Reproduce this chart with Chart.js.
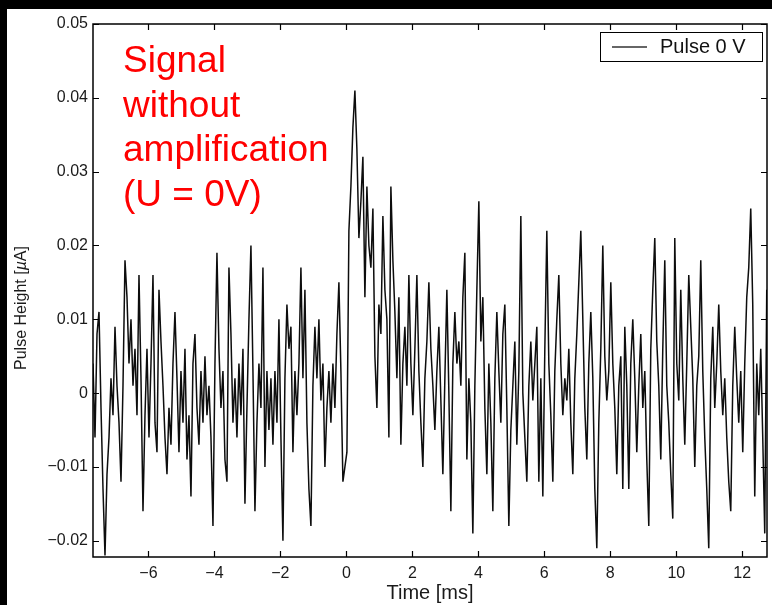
<!DOCTYPE html>
<html>
<head>
<meta charset="utf-8">
<script src="https://cdn.jsdelivr.net/npm/chart.js@4/dist/chart.umd.min.js"></script>
<style>
  html, body { margin: 0; padding: 0; background: #000; width: 772px; height: 605px; overflow: hidden; }
  #frame { position: absolute; left: 7px; top: 9px; width: 765px; height: 596px; background: #fff; }
  canvas { display: block; }
</style>
</head>
<body>
<div id="frame"><canvas id="c" width="765" height="596"></canvas></div>
<script>
// ---- data ----
const seriesLabel = 'Pulse 0 V';
const sampleStart = -7.68;   // ms, first sample
const sampleStep = 0.0606;   // ms between samples
const pulseValues = [
  0.004,-0.006,0.008,0.011,-0.002,-0.013,-0.022,-0.011,-0.006,0.002,
  -0.003,0.009,0.001,-0.004,-0.012,0.001,0.018,0.013,0.004,0.010,
  0.001,0.006,-0.003,0.016,0.002,-0.016,-0.003,0.006,-0.006,0.004,
  0.016,-0.004,-0.008,0.014,0.007,0.001,-0.006,-0.011,-0.002,-0.007,
  0.004,0.011,0.002,-0.008,0.003,-0.004,0.006,-0.009,-0.003,-0.014,
  0.004,0.008,-0.002,-0.007,0.003,-0.004,0.005,-0.003,0.001,-0.006,
  -0.018,0.004,0.019,0.006,-0.002,0.003,-0.009,-0.012,0.017,0.008,
  -0.004,0.002,-0.006,0.004,-0.003,0.006,-0.015,-0.002,0.010,0.020,
  0.003,-0.016,-0.004,0.004,-0.002,0.017,-0.010,0.003,-0.005,0.002,
  -0.007,0.003,-0.004,0.010,-0.006,-0.020,0.002,0.012,0.006,0.009,
  -0.008,0.003,-0.003,0.004,0.017,0.002,0.014,-0.004,-0.013,-0.018,
  0.001,0.009,0.002,0.010,-0.001,0.004,-0.010,-0.002,0.003,-0.004,
  0.004,-0.002,0.008,0.015,0.003,-0.012,-0.010,-0.008,0.022,0.028,
  0.036,0.041,0.033,0.021,0.026,0.032,0.013,0.028,0.020,0.017,
  0.025,0.005,-0.002,0.012,0.008,0.024,0.014,0.010,-0.006,0.028,
  0.018,0.011,0.002,0.013,-0.007,0.004,0.009,0.001,0.016,0.004,
  -0.003,0.006,0.016,0.003,-0.004,-0.010,0.002,0.007,0.015,0.006,
  0.001,-0.005,0.003,0.009,-0.001,-0.011,0.002,0.014,0.000,-0.016,
  0.004,0.011,0.004,0.007,0.001,0.013,0.019,-0.009,0.002,-0.004,
  -0.019,0.001,0.014,0.026,0.007,0.013,-0.002,-0.011,0.004,-0.004,
  -0.016,0.002,0.011,0.003,-0.004,0.008,0.012,-0.002,-0.018,-0.005,
  0.001,0.007,-0.007,0.003,0.024,0.000,-0.006,-0.012,0.001,0.007,
  -0.001,0.004,0.009,-0.012,0.002,-0.014,0.006,0.022,0.004,-0.003,
  -0.012,0.003,0.010,0.016,0.004,-0.003,0.002,-0.001,0.006,-0.004,
  -0.011,0.002,0.008,0.015,0.022,0.010,-0.002,-0.009,0.004,0.011,
  0.002,-0.013,-0.021,-0.004,0.006,0.020,0.005,-0.001,0.003,0.015,
  0.004,-0.002,-0.011,0.001,0.005,-0.013,0.009,0.001,-0.013,0.004,
  0.010,0.002,-0.008,0.001,0.008,-0.002,0.003,-0.009,-0.018,0.006,
  0.014,0.021,0.007,0.001,-0.009,0.006,0.018,0.001,-0.004,-0.011,
  -0.017,0.021,0.004,-0.001,0.014,0.002,-0.007,0.004,0.016,0.009,
  0.002,-0.010,0.001,0.005,0.018,0.003,-0.006,-0.013,-0.021,0.002,
  0.009,-0.002,0.004,0.012,0.003,-0.003,0.002,-0.006,-0.012,-0.016,
  0.001,0.009,0.002,-0.004,0.003,-0.008,0.004,0.013,0.017,0.025,
  0.012,-0.014,0.004,-0.003,0.006,-0.006,-0.019,0.014
];
const xTickValues = [-6, -4, -2, 0, 2, 4, 6, 8, 10, 12];
const yTickValues = [-0.02, -0.01, 0, 0.01, 0.02, 0.03, 0.04, 0.05];
const xRange = [-7.68, 12.75];
const yRange = [-0.0222, 0.05];
const annotationLines = ['Signal', 'without', 'amplification', '(U = 0V)'];
const xTitle = 'Time [ms]';
const yTitleParts = ['Pulse Height [', '\u00b5', 'A]'];

// ---- build points ----
const points = pulseValues.map((v, i) => ({ x: sampleStart + i * sampleStep, y: v }));

function fmt(v, dp) {
  if (Math.abs(v) < 1e-9) return '0';
  const s = Math.abs(v).toFixed(dp);
  return (v < 0 ? '\u2212' : '') + s;
}

const FONT = '"Liberation Sans", Arial, sans-serif';

const framePlugin = {
  id: 'frame',
  afterDatasetsDraw(chart) {
    const { ctx, chartArea: a, scales } = chart;
    ctx.save();
    ctx.strokeStyle = '#000';
    ctx.lineWidth = 1.5;
    ctx.strokeRect(a.left, a.top, a.right - a.left, a.bottom - a.top);
    ctx.lineWidth = 1.2;
    const tl = 6;
    ctx.beginPath();
    xTickValues.forEach(v => {
      const px = Math.round(scales.x.getPixelForValue(v)) + 0.5;
      ctx.moveTo(px, a.bottom); ctx.lineTo(px, a.bottom - tl);
      ctx.moveTo(px, a.top); ctx.lineTo(px, a.top + tl);
    });
    yTickValues.forEach(v => {
      const py = Math.round(scales.y.getPixelForValue(v)) + 0.5;
      ctx.moveTo(a.left, py); ctx.lineTo(a.left + tl, py);
      ctx.moveTo(a.right, py); ctx.lineTo(a.right - tl, py);
    });
    ctx.stroke();
    ctx.restore();
  },
  afterDraw(chart) {
    const { ctx } = chart;
    ctx.save();
    // y axis title with italic mu
    ctx.fillStyle = '#1a1a1a';
    ctx.textBaseline = 'middle';
    ctx.translate(15, 299);
    ctx.rotate(-Math.PI / 2);
    const fN = '16px ' + FONT, fI = 'italic 16px ' + FONT;
    ctx.font = fN; const w0 = ctx.measureText(yTitleParts[0]).width;
    ctx.font = fI; const w1 = ctx.measureText(yTitleParts[1]).width;
    ctx.font = fN; const w2 = ctx.measureText(yTitleParts[2]).width;
    let xs = -(w0 + w1 + w2) / 2;
    ctx.textAlign = 'left';
    ctx.font = fN; ctx.fillText(yTitleParts[0], xs, 0); xs += w0;
    ctx.font = fI; ctx.fillText(yTitleParts[1], xs, 0); xs += w1;
    ctx.font = fN; ctx.fillText(yTitleParts[2], xs, 0);
    ctx.setTransform(1, 0, 0, 1, 0, 0);
    // legend box
    const bx = 593, by = 23, bw = 162, bh = 29;
    ctx.fillStyle = '#fff';
    ctx.fillRect(bx, by, bw, bh);
    ctx.strokeStyle = '#000';
    ctx.lineWidth = 1;
    ctx.strokeRect(bx + 0.5, by + 0.5, bw, bh);
    ctx.strokeStyle = '#333';
    ctx.lineWidth = 1.3;
    ctx.beginPath();
    ctx.moveTo(605, 38); ctx.lineTo(640, 38);
    ctx.stroke();
    ctx.fillStyle = '#111';
    ctx.font = '20px ' + FONT;
    ctx.textBaseline = 'middle';
    ctx.textAlign = 'left';
    ctx.fillText(chart.data.datasets[0].label, 653, 38);
    // red annotation
    ctx.fillStyle = '#ff0000';
    ctx.font = '37px ' + FONT;
    ctx.textBaseline = 'alphabetic';
    annotationLines.forEach((t, i) => ctx.fillText(t, 116, 63 + i * 44.7));
    ctx.restore();
  }
};

new Chart(document.getElementById('c'), {
  type: 'line',
  data: {
    datasets: [{
      label: seriesLabel,
      data: points,
      borderColor: '#0d0d0d',
      borderWidth: 1.5,
      pointRadius: 0,
      tension: 0,
      fill: false
    }]
  },
  options: {
    responsive: false,
    devicePixelRatio: 1,
    animation: false,
    layout: { padding: { top: 15, right: 5, left: 0, bottom: 0 } },
    plugins: { legend: { display: false }, tooltip: { enabled: false } },
    scales: {
      x: {
        type: 'linear',
        min: xRange[0], max: xRange[1],
        grid: { display: false, drawTicks: false },
        border: { display: false },
        afterBuildTicks: s => { s.ticks = xTickValues.map(v => ({ value: v })); },
        afterFit: s => { s.height = 48; },
        ticks: {
          padding: 7,
          color: '#1a1a1a',
          font: { family: FONT, size: 16 },
          callback: v => fmt(v, 0),
          maxRotation: 0
        },
        title: {
          display: true, text: xTitle, color: '#1a1a1a',
          font: { family: FONT, size: 20 },
          padding: { top: 0, bottom: 0 }
        }
      },
      y: {
        type: 'linear',
        min: yRange[0], max: yRange[1],
        grid: { display: false, drawTicks: false },
        border: { display: false },
        afterBuildTicks: s => { s.ticks = yTickValues.map(v => ({ value: v })); },
        afterFit: s => { s.width = 86; },
        ticks: {
          padding: 5,
          color: '#1a1a1a',
          font: { family: FONT, size: 16 },
          callback: v => fmt(v, 2)
        },
        title: { display: false }
      }
    }
  },
  plugins: [framePlugin]
});
</script>
</body>
</html>
